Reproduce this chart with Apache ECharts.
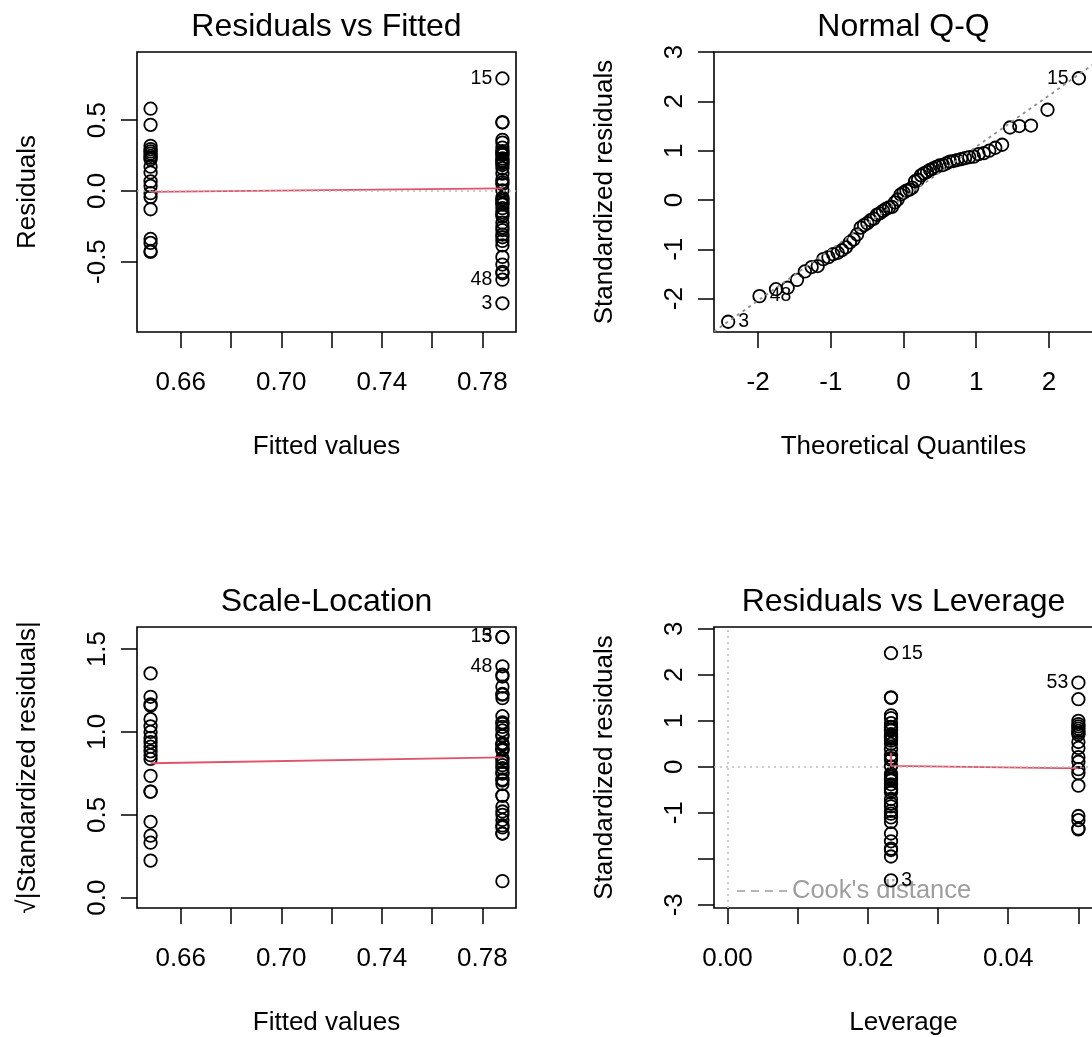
<!DOCTYPE html>
<html>
<head>
<meta charset="utf-8">
<script src="https://cdn.jsdelivr.net/npm/echarts@6/dist/echarts.min.js"></script>
<style>
html,body{margin:0;padding:0;background:#fff;overflow:hidden;}
#chart{width:1100px;height:1037px;}
</style>
</head>
<body>
<div id="chart"></div>
<script>
// lm diagnostics, two groups of the fit: A (43 obs) and B (20 obs)
var fittedA = 0.788, fittedB = 0.648;
var leverageA = 0.0233, leverageB = 0.05;

// residuals vs fitted
var residA = [0.795, 0.486, 0.483, 0.361, 0.341, 0.306, 0.280, 0.274, 0.261, 0.254, 0.229, 0.216, 0.206, 0.196, 0.183,
  0.161, 0.122, 0.080, 0.061, 0.048, 0.003, -0.048, -0.058, -0.071, -0.087, -0.097, -0.122, -0.151, -0.164, -0.180,
  -0.225, -0.258, -0.277, -0.309, -0.328, -0.354, -0.386, -0.467, -0.521, -0.573, -0.583, -0.628, -0.795];
var residB = [0.581, 0.467, 0.318, 0.295, 0.279, 0.264, 0.248, 0.235, 0.222, 0.171, 0.130, 0.067, 0.035, -0.016,
  -0.044, -0.130, -0.340, -0.368, -0.425, -0.432];

// standardized residuals
var stdA = [2.47, 1.51, 1.50, 1.12, 1.06, 0.95, 0.87, 0.85, 0.81, 0.79, 0.71, 0.67, 0.64, 0.61, 0.57, 0.50, 0.38,
  0.25, 0.19, 0.15, 0.01, -0.15, -0.18, -0.22, -0.27, -0.30, -0.38, -0.47, -0.51, -0.56, -0.70, -0.80, -0.86, -0.96,
  -1.02, -1.10, -1.20, -1.45, -1.62, -1.78, -1.81, -1.95, -2.47];
var stdB = [1.83, 1.47, 1.00, 0.93, 0.88, 0.83, 0.78, 0.74, 0.70, 0.54, 0.41, 0.21, 0.11, -0.05, -0.14, -0.41,
  -1.07, -1.16, -1.34, -1.36];

// sqrt(|standardized residuals|)
var sqrtA = [1.572, 1.229, 1.225, 1.058, 1.030, 0.975, 0.933, 0.922, 0.900, 0.889, 0.843, 0.819, 0.800, 0.781, 0.755,
  0.707, 0.616, 0.500, 0.436, 0.387, 0.100, 0.387, 0.424, 0.469, 0.520, 0.548, 0.616, 0.686, 0.714, 0.748, 0.837,
  0.894, 0.927, 0.980, 1.010, 1.049, 1.095, 1.204, 1.273, 1.334, 1.345, 1.396, 1.572];
var sqrtB = [1.353, 1.212, 1.000, 0.964, 0.938, 0.911, 0.883, 0.860, 0.837, 0.735, 0.640, 0.458, 0.332, 0.224,
  0.374, 0.640, 1.034, 1.077, 1.158, 1.166];

// normal Q-Q
var qqTheo = [-2.412, -1.981, -1.754, -1.593, -1.465, -1.357, -1.263, -1.180, -1.104, -1.033, -0.967, -0.905, -0.847,
  -0.792, -0.738, -0.687, -0.638, -0.589, -0.543, -0.497, -0.453, -0.409, -0.366, -0.324, -0.282, -0.241, -0.200,
  -0.160, -0.120, -0.080, -0.040, 0, 0.040, 0.080, 0.120, 0.160, 0.200, 0.241, 0.282, 0.324, 0.366, 0.409, 0.453,
  0.497, 0.543, 0.589, 0.638, 0.687, 0.738, 0.792, 0.847, 0.905, 0.967, 1.033, 1.104, 1.180, 1.263, 1.357, 1.465,
  1.593, 1.754, 1.981, 2.412];
var qqSample = [-2.47, -1.95, -1.81, -1.78, -1.62, -1.45, -1.36, -1.34, -1.20, -1.16, -1.10, -1.07, -1.02, -0.96,
  -0.86, -0.80, -0.70, -0.56, -0.51, -0.47, -0.41, -0.38, -0.30, -0.27, -0.22, -0.18, -0.15, -0.14, -0.05, 0.01,
  0.11, 0.15, 0.19, 0.21, 0.25, 0.38, 0.41, 0.50, 0.54, 0.57, 0.61, 0.64, 0.67, 0.70, 0.71, 0.74, 0.78, 0.79, 0.81,
  0.83, 0.85, 0.87, 0.88, 0.93, 0.95, 1.00, 1.06, 1.12, 1.47, 1.50, 1.51, 1.83, 2.47];
var qqLine = [[-2.607, -2.67], [2.607, 2.75]];

// red smoothers
var smoothRF = [[0.648, -0.007], [0.788, 0.017]];
var smoothSL = [[0.648, 0.811], [0.788, 0.847]];
var smoothRL = [[0.0233, 0.30], [0.0233, 0.02], [0.05, -0.035]];

// axis ticks and labels
var ticksFit = [0.66, 0.68, 0.70, 0.72, 0.74, 0.76, 0.78];
var labelsFit = [0.66, 0.70, 0.74, 0.78];
var ticksRes = [-0.5, 0, 0.5];
var ticksQx = [-2, -1, 0, 1, 2];
var ticksQy = [-2, -1, 0, 1, 2, 3];
var ticksSL = [0, 0.5, 1, 1.5];
var ticksLev = [0, 0.01, 0.02, 0.03, 0.04, 0.05];
var labelsLev = [0, 0.02, 0.04];
var ticksRL = [-3, -2, -1, 0, 1, 2, 3];
var labelsRL = [-3, -1, 0, 1, 2, 3];

var FONT = '"Liberation Sans", Arial, sans-serif';
var RED = '#DF536B';

function axis(gi, min, max, ticks, labels, fmt, name, isY) {
  return {
    type: 'value', gridIndex: gi, min: min, max: max,
    axisLine: {show: false, onZero: false},
    splitLine: {show: false},
    axisTick: {show: true, length: 16, customValues: ticks, lineStyle: {color: '#000', width: 1.5}},
    axisLabel: {
      customValues: labels, formatter: fmt, rotate: isY ? 90 : 0, margin: isY ? 26 : 38,
      fontSize: 26, color: '#000', fontFamily: FONT
    },
    name: name, nameLocation: 'middle', nameGap: isY ? 96 : 102,
    nameTextStyle: {fontSize: 26, color: '#000', fontFamily: FONT}
  };
}
function f1(v) { return v.toFixed(1); }
function f2(v) { return v.toFixed(2); }
function f0(v) { return String(v); }

function pts(xv, yv, ids) {
  return yv.map(function (y, i) {
    var item = {value: [Array.isArray(xv) ? xv[i] : xv, y]};
    if (ids[i]) item.label = {show: true, formatter: ids[i][0], position: ids[i][1]};
    return item;
  });
}
function scatter(gi, data, mark) {
  var s = {
    type: 'scatter', xAxisIndex: gi, yAxisIndex: gi, data: data,
    symbol: 'circle', symbolSize: 12.5,
    itemStyle: {color: 'rgba(0,0,0,0)', borderColor: '#000', borderWidth: 1.8, opacity: 1},
    label: {show: false, distance: 3, fontSize: 19.5, color: '#000', fontFamily: FONT},
    emphasis: {disabled: true}
  };
  if (mark) {
    s.markLine = {
      silent: true, symbol: 'none', animation: false, label: {show: false},
      lineStyle: {color: '#bebebe', type: [2, 4], width: 1.5}, data: mark
    };
  }
  return s;
}
function line(gi, data, color, type) {
  return {
    type: 'line', xAxisIndex: gi, yAxisIndex: gi, data: data, showSymbol: false, silent: true,
    lineStyle: {color: color, width: 1.8, type: type || 'solid'}
  };
}

var grids = [
  {left: 137, top: 52, width: 379, height: 280},
  {left: 714, top: 52, width: 379, height: 280},
  {left: 137, top: 627, width: 379, height: 281},
  {left: 714, top: 627, width: 379, height: 281}
].map(function (g) {
  g.show = true; g.borderColor = '#000'; g.borderWidth = 1.6; g.outerBoundsMode = 'none';
  return g;
});

function text(str, x, y, size, color, align) {
  return {type: 'text', x: x, y: y, silent: true,
    style: {text: str, fill: color || '#000', font: size + 'px ' + FONT,
      textAlign: align || 'center', textVerticalAlign: 'middle'}};
}

var option = {
  animation: false,
  backgroundColor: '#fff',
  grid: grids,
  xAxis: [
    axis(0, 0.6426, 0.7934, ticksFit, labelsFit, f2, 'Fitted values', false),
    axis(1, -2.607, 2.607, ticksQx, ticksQx, f0, 'Theoretical Quantiles', false),
    axis(2, 0.6426, 0.7934, ticksFit, labelsFit, f2, 'Fitted values', false),
    axis(3, -0.00192, 0.05208, ticksLev, labelsLev, f2, 'Leverage', false)
  ],
  yAxis: [
    axis(0, -0.998, 0.982, ticksRes, ticksRes, f1, 'Residuals', true),
    axis(1, -2.678, 3.002, ticksQy, ticksQy, f0, 'Standardized residuals', true),
    axis(2, -0.062, 1.633, ticksSL, ticksSL, f1, '\u221A|Standardized residuals|', true),
    axis(3, -3.07, 3.04, ticksRL, labelsRL, f0, 'Standardized residuals', true)
  ],
  series: [
    scatter(0, pts(fittedB, residB, {}).concat(
      pts(fittedA, residA, {0: ['15', 'left'], 41: ['48', 'left'], 42: ['3', 'left']})), [{yAxis: 0}]),
    line(0, smoothRF, RED),
    scatter(1, pts(qqTheo, qqSample, {62: ['15', 'left'], 1: ['48', 'right'], 0: ['3', 'right']})),
    line(1, qqLine, '#8c8c8c', [3, 4]),
    scatter(2, pts(fittedB, sqrtB, {}).concat(
      pts(fittedA, sqrtA, {0: ['15', 'left'], 42: ['3', 'left'], 41: ['48', 'left']}))),
    line(2, smoothSL, RED),
    scatter(3, pts(leverageB, stdB, {0: ['53', 'left']}).concat(
      pts(leverageA, stdA, {0: ['15', 'right'], 42: ['3', 'right']})), [{yAxis: 0}, {xAxis: 0}]),
    line(3, smoothRL, RED)
  ],
  graphic: [
    text('Residuals vs Fitted', 326.5, 27, 32),
    text('Normal Q-Q', 903.5, 27, 32),
    text('Scale-Location', 326.5, 602, 32),
    text('Residuals vs Leverage', 903.5, 602, 32),
    {type: 'line', silent: true, shape: {x1: 737, y1: 891, x2: 787, y2: 891},
      style: {stroke: '#9e9e9e', lineWidth: 1.5, lineDash: [8, 6]}},
    text("Cook's distance", 792, 891, 25.5, '#9e9e9e', 'left')
  ]
};

var chart = echarts.init(document.getElementById('chart'));
chart.setOption(option);
</script>
</body>
</html>
